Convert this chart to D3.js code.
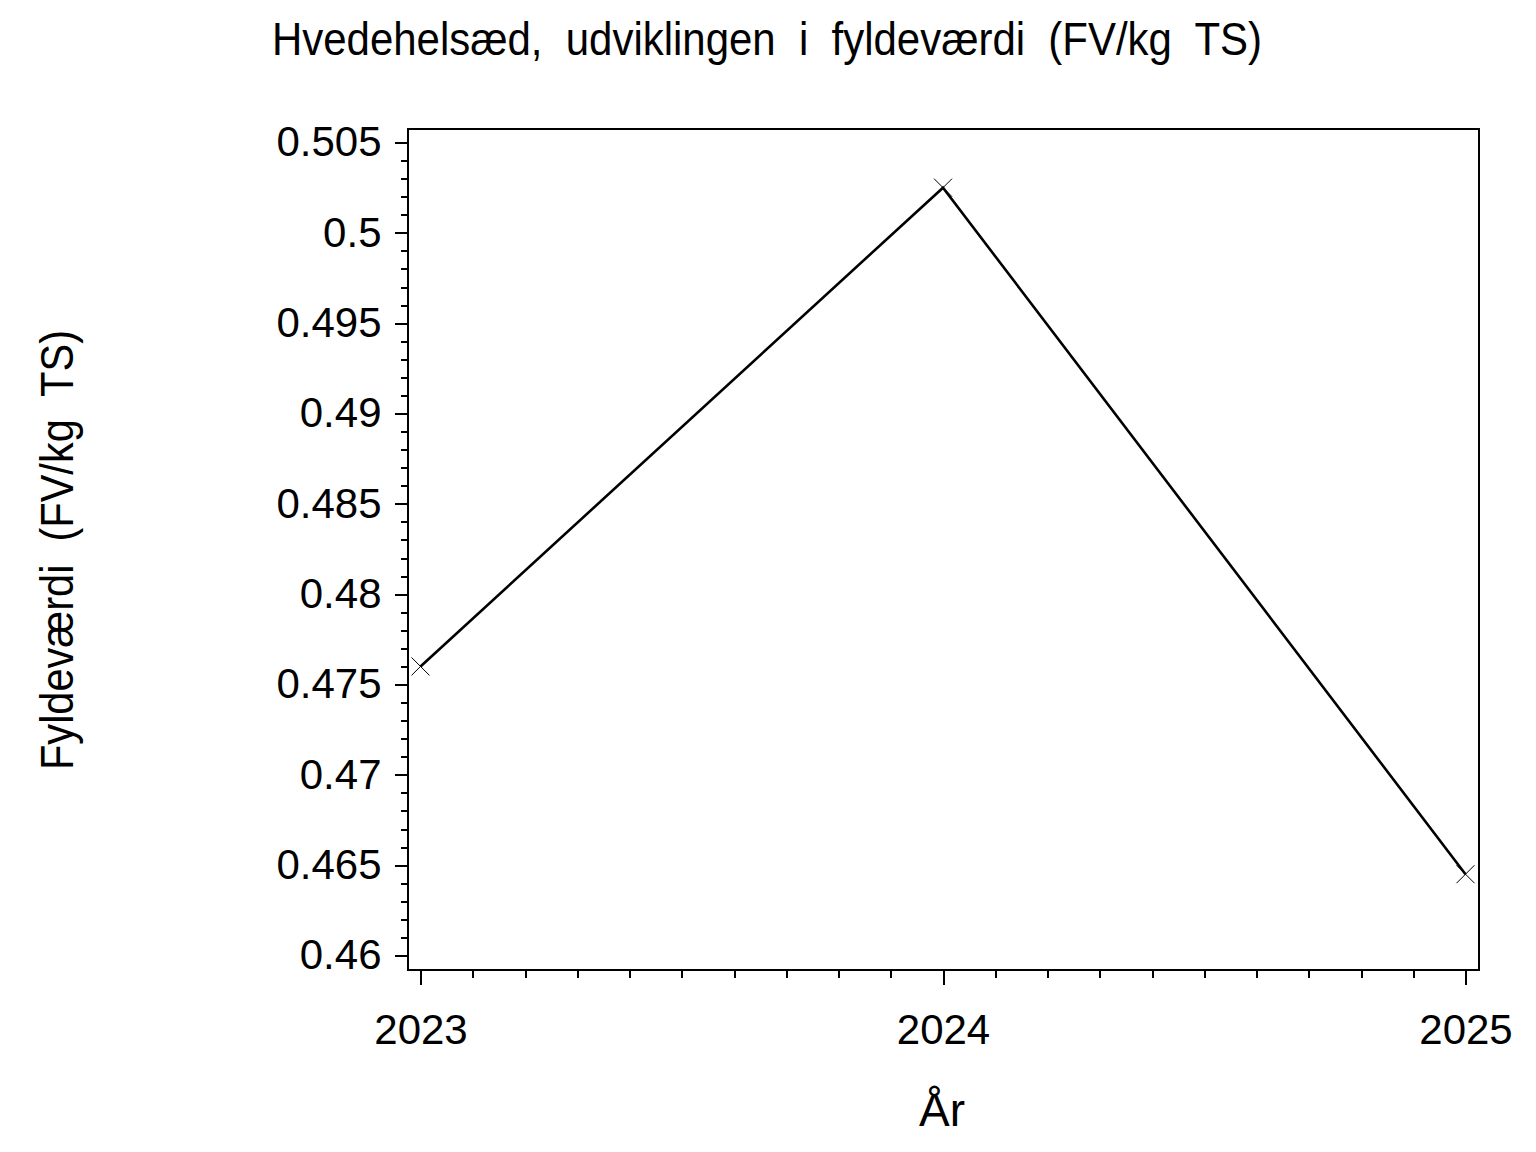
<!DOCTYPE html>
<html>
<head>
<meta charset="utf-8">
<script src="https://cdn.jsdelivr.net/npm/d3@7"></script>
<style>
  body { margin: 0; background: #fff; }
  text { font-family: "Liberation Sans", Arial, sans-serif; fill: #000; }
</style>
</head>
<body>
<div id="chart"></div>
<script>
// data
var years = [2023, 2024, 2025];
var fyldevaerdi = [0.4760, 0.5025, 0.4645];
var yTickValues = [0.46, 0.465, 0.47, 0.475, 0.48, 0.485, 0.49, 0.495, 0.5, 0.505];
var yTickLabels = ["0.46", "0.465", "0.47", "0.475", "0.48", "0.485", "0.49", "0.495", "0.5", "0.505"];
var xTickValues = [2023, 2024, 2025];

var svgWidth = 1536;
var svgHeight = 1152;

// plot frame
var frame = { left: 407.5, top: 128.5, right: 1478.5, bottom: 969.5 };

var svg = d3.select("#chart")
  .append("svg")
  .attr("width", svgWidth)
  .attr("height", svgHeight);

var xScale = d3.scaleLinear().domain([2023, 2025]).range([420.5, 1465.5]);
var yScale = d3.scaleLinear().domain([0.46, 0.505]).range([955.5, 142.5]);

// frame
svg.append("rect")
  .attr("x", frame.left)
  .attr("y", frame.top)
  .attr("width", frame.right - frame.left)
  .attr("height", frame.bottom - frame.top)
  .attr("fill", "none")
  .attr("stroke", "#000")
  .attr("stroke-width", 2)
  .attr("shape-rendering", "crispEdges");

// y minor ticks
var yMinor = [];
for (var i = 0; i < yTickValues.length - 1; i++) {
  for (var k = 1; k < 5; k++) yMinor.push(yTickValues[i] + k * 0.001);
}
svg.append("g")
  .attr("transform", `translate(${frame.left}, 0)`)
  .call(d3.axisLeft(yScale).tickValues(yMinor).tickSize(7).tickFormat(""))
  .call(g => g.select(".domain").remove());

// y major ticks
svg.append("g")
  .attr("class", "y-axis")
  .attr("transform", `translate(${frame.left}, 0)`)
  .call(d3.axisLeft(yScale)
    .tickValues(yTickValues)
    .tickSize(13)
    .tickPadding(13)
    .tickFormat((d, i) => yTickLabels[i]))
  .call(g => g.select(".domain").remove());

// x minor ticks
var xMinor = [];
for (var j = 0; j < xTickValues.length - 1; j++) {
  for (var m = 1; m < 10; m++) xMinor.push(xTickValues[j] + m * 0.1);
}
svg.append("g")
  .attr("transform", `translate(0, ${frame.bottom})`)
  .call(d3.axisBottom(xScale).tickValues(xMinor).tickSize(8).tickFormat(""))
  .call(g => g.select(".domain").remove());

// x major ticks
svg.append("g")
  .attr("class", "x-axis")
  .attr("transform", `translate(0, ${frame.bottom})`)
  .call(d3.axisBottom(xScale)
    .tickValues(xTickValues)
    .tickSize(15)
    .tickPadding(30)
    .tickFormat(d3.format("d")))
  .call(g => g.select(".domain").remove());

svg.selectAll(".tick line")
  .attr("stroke", "#000")
  .attr("stroke-width", 2)
  .attr("shape-rendering", "crispEdges");

svg.selectAll(".tick text")
  .style("font-size", "42px")
  .style("font-family", "'Liberation Sans', Arial, sans-serif")
  .attr("fill", "#000");

// line
var points = years.map((d, i) => ({ year: d, value: fyldevaerdi[i] }));

var line = d3.line()
  .x(d => xScale(d.year))
  .y(d => yScale(d.value));

svg.append("path")
  .datum(points)
  .attr("d", line)
  .attr("fill", "none")
  .attr("stroke", "#000")
  .attr("stroke-width", 2.6);

// x markers
var s = 9;
svg.selectAll(".marker")
  .data(points)
  .enter()
  .append("path")
  .attr("class", "marker")
  .attr("d", d => {
    var cx = xScale(d.year), cy = yScale(d.value);
    return `M${cx - s},${cy - s}L${cx + s},${cy + s}M${cx - s},${cy + s}L${cx + s},${cy - s}`;
  })
  .attr("stroke", "#000")
  .attr("stroke-width", 1)
  .attr("fill", "none");

// title
svg.append("text")
  .attr("x", 272)
  .attr("y", 55)
  .attr("textLength", 990)
  .attr("lengthAdjust", "spacingAndGlyphs")
  .style("white-space", "pre")
  .style("font-size", "46px")
  .text("Hvedehelsæd,  udviklingen  i  fyldeværdi  (FV/kg  TS)");

// axis titles
svg.append("text")
  .attr("transform", "translate(73, 770) rotate(-90)")
  .attr("textLength", 440)
  .attr("lengthAdjust", "spacingAndGlyphs")
  .style("white-space", "pre")
  .style("font-size", "46px")
  .text("Fyldeværdi  (FV/kg  TS)");

svg.append("text")
  .attr("x", 942)
  .attr("y", 1126)
  .attr("text-anchor", "middle")
  .style("font-size", "46px")
  .text("År");
</script>
</body>
</html>
